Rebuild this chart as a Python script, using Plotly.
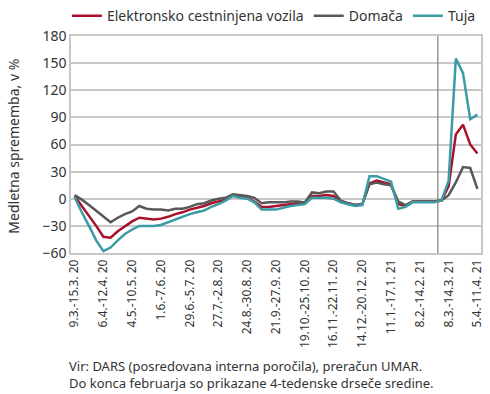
import plotly.graph_objects as go

weeks = list(range(57))
tick_idx = list(range(0, 57, 4))
tick_labels = ["9.3.-15.3. 20", "6.4.-12.4. 20", "4.5.-10.5. 20", "1.6.-7.6. 20",
               "29.6.-5.7. 20", "27.7.-2.8. 20", "24.8.-30.8. 20", "21.9.-27.9. 20",
               "19.10.-25.10. 20", "16.11.-22.11. 20", "14.12.-20.12. 20",
               "11.1.-17.1. 21", "8.2.-14.2. 21", "8.3.-14.3. 21", "5.4.-11.4. 21"]

elektronsko = [3, -8, -18, -30, -42, -43, -36, -30, -25, -21, -22, -23, -22, -20, -17, -15,
               -12, -10, -8, -5, -3, -1, 4, 2, 1, -3, -9, -9, -8, -7, -6, -5,
               -5, 3, 3, 4, 3, -3, -5, -7, -6, 17, 20, 18, 16, -6, -8, -3,
               -3, -3, -3, -2, 14, 71, 82, 60, 50]
domaca = [4, -1, -7, -13, -19, -26, -21, -17, -14, -8, -11, -12, -12, -13, -11, -11,
          -9, -6, -5, -2, 0, 1, 5, 4, 3, 1, -5, -4, -4, -4, -3, -3,
          -4, 7, 6, 8, 8, -2, -5, -7, -6, 16, 18, 16, 15, -3, -7, -3,
          -3, -3, -3, -2, 4, 18, 35, 34, 11]
tuja = [2, -15, -30, -46, -58, -54, -46, -39, -34, -30, -30, -30, -29, -26, -23, -20,
        -17, -15, -13, -9, -6, -2, 3, 1, 0, -4, -12, -12, -12, -10, -8, -7,
        -6, 1, 1, 1, 0, -4, -6, -8, -7, 25, 25, 22, 19, -11, -9, -4,
        -4, -4, -4, -2, 20, 155, 139, 88, 93]

series = [("Elektronsko cestninjena vozila", elektronsko, "#a8102c"),
          ("Domača", domaca, "#585858"),
          ("Tuja", tuja, "#3a9ca5")]

fig = go.Figure()
for name, vals, col in series:
    fig.add_trace(go.Scatter(x=weeks, y=vals, mode="lines", name=name,
                             line=dict(color=col, width=2.5)))

fig.add_shape(type="line", xref="x", yref="paper", x0=50.5, x1=50.5, y0=0, y1=1,
              line=dict(color="#7f7f7f", width=1.2))

font_family = "Noto Sans, Lato, sans-serif"
fig.update_layout(
    width=490, height=394,
    margin=dict(l=71, r=9, t=36, b=141, autoexpand=False),
    plot_bgcolor="white", paper_bgcolor="white",
    font=dict(family=font_family, color="#333333", size=12),
    showlegend=True,
    legend=dict(orientation="h", x=-0.01, xanchor="left", y=1.165, yanchor="top",
                font=dict(size=14, color="#333333"), itemwidth=30,
                tracegroupgap=0, bgcolor="rgba(0,0,0,0)"),
    xaxis=dict(range=[-0.5, 56.5], tickmode="array", tickvals=tick_idx,
               ticktext=tick_labels, tickangle=-90, tickfont=dict(size=12),
               showgrid=False, zeroline=False, showline=True, linecolor="#c8c8c8",
               linewidth=1.5, mirror=True, ticks="", automargin=False),
    yaxis=dict(range=[-60, 180], dtick=30, tick0=0, tickfont=dict(size=14),
               showgrid=True, gridcolor="#c8c8c8", gridwidth=1.5,
               zeroline=False, showline=True, linecolor="#c8c8c8", linewidth=1.5,
               mirror=True, ticks="", automargin=False),
)

fig.add_annotation(xref="paper", yref="paper", x=-57 / 410, y=0.49, xanchor="center",
                   yanchor="middle", textangle=-90, showarrow=False,
                   text="Medletna sprememba, v %", font=dict(size=14, color="#333333"))

fig.add_annotation(xref="paper", yref="paper", x=-0.01, y=-0.47, xanchor="left", yanchor="top",
                   align="left", showarrow=False,
                   text="Vir: DARS (posredovana interna poročila), preračun UMAR.<br>"
                        "Do konca februarja so prikazane 4-tedenske drseče sredine.",
                   font=dict(size=13, color="#333333"))

fig.write_html("out.html",
               config={"displayModeBar": False},
               post_script="document.body.style.margin='0';document.body.style.padding='0';"
                           "window.dispatchEvent(new Event('resize'));")
